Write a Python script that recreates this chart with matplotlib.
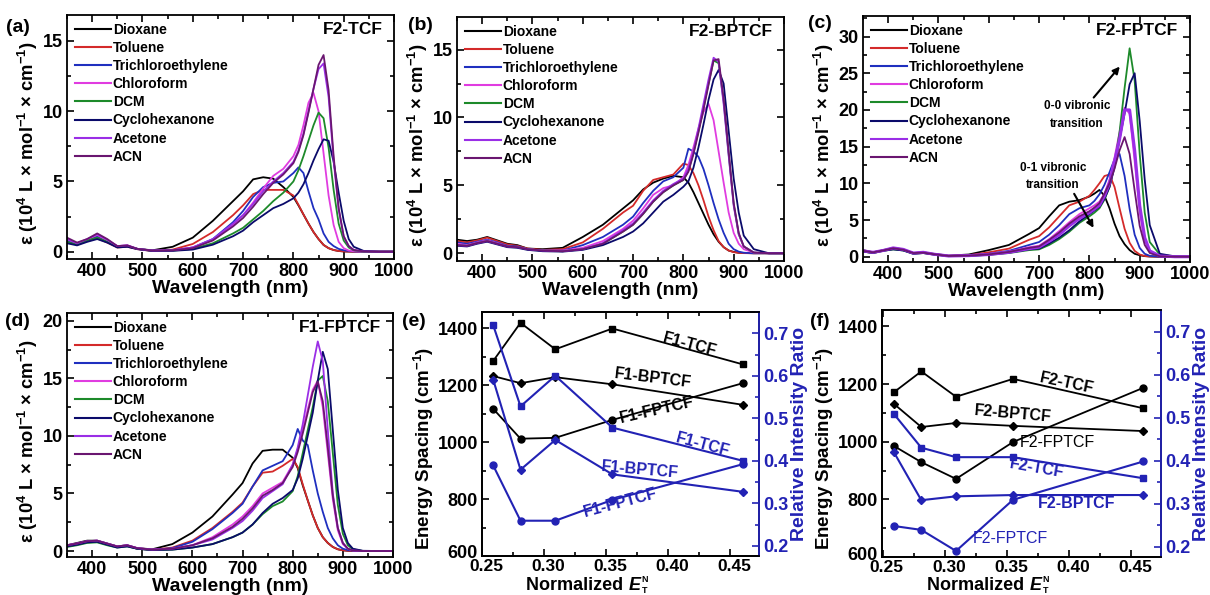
import matplotlib
matplotlib.use("Agg")
import matplotlib.pyplot as plt
from matplotlib.ticker import MultipleLocator
from matplotlib.transforms import ScaledTranslation

plt.rcParams['font.family'] = ['Liberation Sans', 'DejaVu Sans']
plt.rcParams['mathtext.fontset'] = 'custom'
plt.rcParams['mathtext.rm'] = 'Liberation Sans:bold'
plt.rcParams['mathtext.bf'] = 'Liberation Sans:bold'
plt.rcParams['mathtext.it'] = 'Liberation Sans:bold:italic'

# ---------------- data ----------------
SOLVENTS = ['Dioxane', 'Toluene', 'Trichloroethylene', 'Chloroform', 'DCM',
            'Cyclohexanone', 'Acetone', 'ACN']
COLORS = ['#000000', '#d42a2a', '#1f2fbf', '#e03ce0', '#1d8a2a',
          '#0a0a6a', '#9a2ee6', '#6a1670']

WL = [350, 370, 390, 410, 430, 450, 470, 490, 520, 560, 600, 640, 680, 700, 720,
      740, 760, 780, 800, 810, 820, 830, 840, 850, 860, 870, 880, 890, 900, 910,
      920, 940, 970, 1000]

# panel (a) F2-TCF
A_DIOXANE = [0.9, 0.6, 0.85, 1.0, 0.7, 0.35, 0.4, 0.2, 0.1, 0.35, 1.0, 2.2, 3.6, 4.3, 5.15, 5.3, 5.2, 4.6, 3.9, 3.3, 2.65, 2.0, 1.4, 0.9, 0.48, 0.25, 0.12, 0.05, 0.02, 0.01, 0, 0, 0, 0]
A_TOLUENE = [0.7, 0.5, 0.75, 0.95, 0.65, 0.3, 0.35, 0.18, 0.05, 0.15, 0.55, 1.4, 2.6, 3.3, 4.1, 4.4, 4.4, 4.4, 4.0, 3.35, 2.65, 2.0, 1.4, 0.9, 0.48, 0.25, 0.12, 0.05, 0.02, 0.01, 0, 0, 0, 0]
A_TCE = [0.8, 0.55, 0.8, 1.1, 0.75, 0.35, 0.4, 0.2, 0.08, 0.1, 0.3, 0.9, 2.1, 2.9, 3.9, 4.6, 4.9, 5.0, 5.6, 6.0, 5.6, 4.3, 3.1, 2.3, 1.3, 0.7, 0.4, 0.2, 0.1, 0.05, 0.02, 0, 0, 0]
A_CHCL3 = [0.9, 0.6, 0.85, 1.2, 0.8, 0.4, 0.45, 0.2, 0.08, 0.1, 0.3, 0.85, 1.9, 2.6, 3.5, 4.5, 5.4, 5.9, 6.8, 7.6, 9.0, 10.6, 11.3, 10.0, 7.0, 4.0, 1.9, 0.7, 0.25, 0.08, 0.03, 0, 0, 0]
A_DCM = [0.7, 0.5, 0.8, 1.0, 0.7, 0.35, 0.4, 0.2, 0.06, 0.08, 0.2, 0.6, 1.3, 1.7, 2.3, 2.9, 3.6, 4.2, 5.0, 5.8, 6.8, 7.9, 9.0, 9.9, 9.5, 7.4, 4.4, 2.0, 0.8, 0.3, 0.1, 0, 0, 0]
A_CYHEX = [0.6, 0.45, 0.7, 0.9, 0.65, 0.3, 0.35, 0.18, 0.05, 0.06, 0.15, 0.5, 1.1, 1.5, 2.1, 2.6, 3.1, 3.4, 3.8, 4.2, 4.8, 5.6, 6.5, 7.3, 8.0, 7.9, 6.4, 4.2, 2.2, 0.9, 0.35, 0.05, 0, 0]
A_ACETONE = [0.9, 0.6, 0.9, 1.25, 0.85, 0.4, 0.45, 0.2, 0.08, 0.1, 0.3, 0.9, 2.0, 2.6, 3.4, 4.3, 5.0, 5.6, 6.4, 7.2, 8.4, 10.0, 11.6, 13.0, 13.4, 11.0, 6.5, 3.0, 1.1, 0.4, 0.12, 0.02, 0, 0]
A_ACN = [1.0, 0.65, 0.9, 1.3, 0.9, 0.4, 0.45, 0.2, 0.08, 0.1, 0.25, 0.8, 1.8, 2.4, 3.2, 4.1, 4.9, 5.5, 6.3, 7.1, 8.3, 9.9, 11.6, 13.3, 14.0, 11.5, 6.8, 3.1, 1.1, 0.4, 0.12, 0.02, 0, 0]

# panel (b) F2-BPTCF
B_DIOXANE = [1.0, 0.9, 1.0, 1.2, 0.95, 0.7, 0.6, 0.35, 0.3, 0.4, 1.2, 2.1, 3.3, 3.9, 4.7, 5.2, 5.5, 5.7, 5.6, 5.2, 4.5, 3.7, 2.9, 2.1, 1.4, 0.85, 0.45, 0.2, 0.1, 0.04, 0.02, 0, 0, 0]
B_TOLUENE = [0.9, 0.8, 0.95, 1.15, 0.9, 0.65, 0.55, 0.35, 0.25, 0.3, 0.8, 1.8, 3.0, 3.5, 4.6, 5.4, 5.6, 5.8, 6.6, 6.5, 5.9, 5.0, 3.9, 2.7, 1.7, 0.9, 0.45, 0.2, 0.08, 0.03, 0.01, 0, 0, 0]
B_TCE = [0.8, 0.7, 0.85, 1.0, 0.8, 0.55, 0.5, 0.3, 0.2, 0.2, 0.6, 1.2, 2.1, 2.7, 3.7, 4.6, 5.3, 5.6, 6.3, 7.7, 7.5, 7.1, 6.2, 5.0, 3.7, 2.5, 1.5, 0.7, 0.3, 0.12, 0.04, 0, 0, 0]
B_CHCL3 = [0.7, 0.6, 0.8, 0.95, 0.75, 0.5, 0.45, 0.3, 0.2, 0.2, 0.4, 0.9, 1.8, 2.4, 3.3, 4.3, 4.8, 5.0, 5.6, 6.5, 7.8, 9.2, 10.4, 11.0, 9.8, 7.5, 5.2, 3.0, 1.5, 0.7, 0.3, 0.05, 0, 0]
B_DCM = [0.6, 0.55, 0.75, 0.9, 0.7, 0.5, 0.45, 0.3, 0.2, 0.15, 0.3, 0.7, 1.6, 2.1, 2.9, 3.8, 4.5, 5.0, 5.4, 6.1, 7.4, 9.0, 10.7, 12.5, 14.2, 14.0, 11.2, 7.3, 3.6, 1.4, 0.5, 0.05, 0, 0]
B_CYHEX = [0.55, 0.5, 0.7, 0.85, 0.65, 0.45, 0.4, 0.25, 0.15, 0.12, 0.25, 0.6, 1.2, 1.6, 2.2, 3.0, 3.8, 4.3, 4.9, 5.3, 6.3, 7.8, 9.5, 11.3, 12.8, 13.5, 12.5, 9.0, 5.5, 3.0, 1.3, 0.3, 0, 0]
B_ACETONE = [0.6, 0.55, 0.75, 0.9, 0.7, 0.5, 0.45, 0.3, 0.2, 0.15, 0.3, 0.75, 1.7, 2.2, 3.0, 3.9, 4.6, 5.1, 5.5, 6.2, 7.5, 9.2, 11.0, 12.8, 14.4, 14.1, 11.0, 7.2, 3.5, 1.4, 0.5, 0.05, 0, 0]
B_ACN = [0.6, 0.55, 0.75, 0.9, 0.7, 0.5, 0.45, 0.3, 0.2, 0.15, 0.3, 0.7, 1.6, 2.1, 2.9, 3.8, 4.5, 5.0, 5.4, 6.0, 7.3, 8.9, 10.6, 12.4, 14.2, 14.3, 11.4, 7.5, 3.7, 1.5, 0.5, 0.05, 0, 0]

# panel (c) F2-FPTCF
C_DIOXANE = [0.9, 0.6, 0.9, 1.2, 1.0, 0.5, 0.6, 0.4, 0.15, 0.3, 0.9, 1.6, 3.1, 3.9, 5.5, 7.0, 7.5, 7.7, 8.2, 8.6, 9.1, 8.3, 6.6, 4.5, 2.8, 1.7, 0.9, 0.4, 0.2, 0.08, 0.03, 0, 0, 0]
C_TOLUENE = [0.8, 0.6, 0.85, 1.15, 0.95, 0.5, 0.55, 0.35, 0.12, 0.2, 0.6, 1.1, 2.3, 2.8, 4.0, 5.5, 7.0, 7.5, 8.3, 9.1, 10.0, 11.0, 11.2, 9.5, 6.6, 3.8, 1.9, 0.8, 0.3, 0.1, 0.04, 0, 0, 0]
C_TCE = [0.8, 0.6, 0.85, 1.1, 0.9, 0.45, 0.55, 0.35, 0.1, 0.15, 0.4, 0.8, 1.6, 2.0, 3.0, 4.3, 5.8, 6.6, 7.0, 7.6, 8.5, 9.8, 11.5, 13.3, 14.0, 11.0, 6.5, 3.0, 1.2, 0.4, 0.12, 0, 0, 0]
C_CHCL3 = [0.8, 0.6, 0.85, 1.2, 1.0, 0.5, 0.6, 0.35, 0.1, 0.15, 0.35, 0.7, 1.3, 1.5, 2.4, 3.5, 4.7, 5.8, 6.6, 7.0, 7.5, 8.6, 10.5, 13.5, 17.0, 20.3, 19.5, 13.0, 6.0, 2.2, 0.7, 0.1, 0, 0]
C_DCM = [0.7, 0.5, 0.8, 1.0, 0.85, 0.4, 0.5, 0.3, 0.08, 0.1, 0.25, 0.5, 0.9, 1.0, 1.6, 2.4, 3.4, 4.6, 5.5, 6.0, 6.6, 7.8, 9.5, 12.5, 17.0, 23.0, 28.4, 24.0, 14.0, 6.0, 2.0, 0.3, 0, 0]
C_CYHEX = [0.7, 0.5, 0.8, 1.0, 0.85, 0.4, 0.5, 0.3, 0.08, 0.1, 0.28, 0.55, 1.0, 1.1, 1.8, 2.6, 3.6, 4.8, 5.8, 6.3, 6.8, 7.9, 9.5, 12.2, 16.0, 19.5, 23.5, 25.0, 18.5, 10.5, 4.3, 0.4, 0.05, 0]
C_ACETONE = [0.8, 0.6, 0.85, 1.2, 1.0, 0.5, 0.6, 0.35, 0.1, 0.15, 0.3, 0.6, 1.1, 1.3, 2.1, 3.0, 4.2, 5.2, 6.0, 6.5, 7.0, 8.3, 10.0, 13.0, 16.0, 20.0, 20.0, 14.5, 7.0, 2.6, 0.8, 0.1, 0, 0]
C_ACN = [0.8, 0.6, 0.85, 1.15, 0.95, 0.5, 0.55, 0.35, 0.1, 0.15, 0.32, 0.65, 1.2, 1.4, 2.3, 3.3, 4.5, 5.5, 6.2, 6.7, 7.3, 8.6, 10.0, 12.0, 14.5, 16.3, 14.0, 9.0, 4.2, 1.6, 0.5, 0.05, 0, 0]

# panel (d) F1-FPTCF
D_DIOXANE = [0.5, 0.7, 0.9, 0.9, 0.65, 0.4, 0.5, 0.25, 0.15, 0.6, 1.6, 3.0, 4.9, 5.9, 7.6, 8.7, 8.8, 8.8, 8.1, 7.2, 5.7, 4.4, 3.1, 2.0, 1.2, 0.7, 0.35, 0.15, 0.06, 0.02, 0, 0, 0, 0]
D_TOLUENE = [0.4, 0.6, 0.8, 0.85, 0.6, 0.35, 0.45, 0.2, 0.1, 0.3, 0.9, 2.0, 3.4, 4.2, 5.6, 6.8, 6.9, 7.4, 8.0, 7.3, 5.8, 4.4, 3.1, 2.0, 1.2, 0.7, 0.35, 0.15, 0.06, 0.02, 0, 0, 0, 0]
D_TCE = [0.45, 0.6, 0.8, 0.85, 0.6, 0.35, 0.45, 0.2, 0.1, 0.25, 0.8, 1.9, 3.3, 4.1, 5.6, 7.0, 7.4, 7.8, 9.2, 10.6, 9.6, 9.2, 7.0, 5.0, 3.4, 2.0, 1.1, 0.5, 0.2, 0.08, 0.03, 0, 0, 0]
D_CHCL3 = [0.5, 0.65, 0.85, 0.9, 0.65, 0.4, 0.5, 0.25, 0.12, 0.2, 0.5, 1.2, 2.3, 3.0, 3.9, 5.0, 5.5, 6.0, 7.5, 8.8, 10.5, 12.3, 14.0, 14.8, 12.5, 8.5, 4.5, 1.8, 0.6, 0.2, 0.06, 0, 0, 0]
D_DCM = [0.35, 0.5, 0.7, 0.75, 0.5, 0.3, 0.4, 0.2, 0.08, 0.12, 0.3, 0.6, 1.2, 1.6, 2.3, 3.2, 3.9, 4.3, 5.2, 6.5, 8.5, 10.5, 12.5, 14.8, 15.2, 13.0, 8.5, 4.0, 1.5, 0.5, 0.15, 0, 0, 0]
D_CYHEX = [0.4, 0.55, 0.75, 0.8, 0.55, 0.3, 0.4, 0.2, 0.08, 0.12, 0.3, 0.6, 1.2, 1.6, 2.3, 3.3, 4.1, 4.6, 5.3, 6.3, 8.0, 10.0, 12.0, 14.8, 17.3, 15.8, 10.5, 5.3, 2.0, 0.7, 0.2, 0.02, 0, 0]
D_ACETONE = [0.5, 0.65, 0.85, 0.9, 0.65, 0.4, 0.5, 0.25, 0.12, 0.2, 0.5, 1.0, 2.0, 2.6, 3.5, 4.6, 5.2, 5.8, 7.5, 9.0, 11.0, 13.5, 16.0, 18.2, 16.5, 10.5, 5.0, 2.0, 0.7, 0.2, 0.05, 0, 0, 0]
D_ACN = [0.5, 0.65, 0.85, 0.9, 0.65, 0.4, 0.5, 0.25, 0.12, 0.2, 0.5, 1.1, 2.1, 2.8, 3.7, 4.8, 5.3, 5.9, 7.3, 8.6, 10.2, 12.0, 13.8, 14.7, 13.0, 9.0, 4.8, 2.0, 0.7, 0.2, 0.05, 0, 0, 0]

SPECTRA = {
    'a': [A_DIOXANE, A_TOLUENE, A_TCE, A_CHCL3, A_DCM, A_CYHEX, A_ACETONE, A_ACN],
    'b': [B_DIOXANE, B_TOLUENE, B_TCE, B_CHCL3, B_DCM, B_CYHEX, B_ACETONE, B_ACN],
    'c': [C_DIOXANE, C_TOLUENE, C_TCE, C_CHCL3, C_DCM, C_CYHEX, C_ACETONE, C_ACN],
    'd': [D_DIOXANE, D_TOLUENE, D_TCE, D_CHCL3, D_DCM, D_CYHEX, D_ACETONE, D_ACN],
}
SPEC_TITLES = {'a': 'F2-TCF', 'b': 'F2-BPTCF', 'c': 'F2-FPTCF', 'd': 'F1-FPTCF'}
SPEC_YLIM = {'a': (-0.52, 16.85), 'b': (-0.57, 17.4), 'c': (-0.72, 32.8), 'd': (-0.52, 20.67)}
SPEC_YMAJOR = {'a': 5, 'b': 5, 'c': 5, 'd': 5}

# panels (e), (f): normalized E_T^N
ETN = [0.259, 0.281, 0.309, 0.355, 0.460]
E_SPACING = {'F1-TCF': [1285, 1419, 1326, 1399, 1273],
             'F1-BPTCF': [1232, 1207, 1228, 1203, 1131],
             'F1-FPTCF': [1117, 1012, 1015, 1078, 1207]}
E_RATIO = {'F1-TCF': [0.719, 0.528, 0.600, 0.478, 0.400],
           'F1-BPTCF': [0.591, 0.379, 0.449, 0.368, 0.327],
           'F1-FPTCF': [0.389, 0.259, 0.259, 0.308, 0.392]}
F_SPACING = {'F2-TCF': [1172, 1244, 1156, 1218, 1116],
             'F2-BPTCF': [1131, 1051, 1065, 1055, 1037],
             'F2-FPTCF': [985, 929, 871, 999, 1187]}
F_RATIO = {'F2-TCF': [0.508, 0.430, 0.408, 0.408, 0.359],
           'F2-BPTCF': [0.419, 0.308, 0.317, 0.320, 0.320],
           'F2-FPTCF': [0.248, 0.239, 0.190, 0.309, 0.398]}
MARKERS = ['s', 'D', 'o']
E_XTICKS = [0.25, 0.30, 0.35, 0.40, 0.45]
E_YTICKS = [600, 800, 1000, 1200, 1400]
E_Y2TICKS = [0.2, 0.3, 0.4, 0.5, 0.6, 0.7]

BLUE = '#2222b4'
W, H = 1210, 595
fig = plt.figure(figsize=(W / 100, H / 100), dpi=100)
renderer = fig.canvas.get_renderer()


def ax_px(l, r, t, b):
    return fig.add_axes([l / W, (H - b) / H, (r - l) / W, (b - t) / H])


def style(ax, right=True, xpad=3, xsize=13):
    for s in ax.spines.values():
        s.set_linewidth(1.3)
    ax.tick_params(which='both', direction='in', top=True, right=right, width=1.2)
    ax.tick_params(which='major', length=5, labelsize=13, pad=3)
    ax.tick_params(axis='x', which='major', pad=xpad, labelsize=xsize)
    ax.tick_params(which='minor', length=3)
    for lab in ax.get_xticklabels() + ax.get_yticklabels():
        lab.set_fontweight('bold')


SPEC_POS = {'a': (67, 394, 15, 259), 'b': (457, 784, 17, 261),
            'c': (863, 1190, 16, 262), 'd': (67, 393, 313, 557)}
YLAB = 'ε (10$^\\mathbf{4}$ L × mol$^\\mathbf{-1}$ × cm$^\\mathbf{-1}$)'

spec_axes = {}
for key in ['a', 'b', 'c', 'd']:
    ax = ax_px(*SPEC_POS[key])
    spec_axes[key] = ax
    for i, (name, col) in enumerate(zip(SOLVENTS, COLORS)):
        lw = 1.3
        if key == 'c' and name == 'Acetone':
            lw = 2.2
        ax.plot(WL, SPECTRA[key][i], color=col, lw=lw, label=name)
    ax.set_xlim(350, 1000)
    ax.set_ylim(*SPEC_YLIM[key])
    ax.xaxis.set_major_locator(MultipleLocator(100))
    ax.xaxis.set_minor_locator(MultipleLocator(50))
    ax.yaxis.set_major_locator(MultipleLocator(SPEC_YMAJOR[key]))
    ax.yaxis.set_minor_locator(MultipleLocator(SPEC_YMAJOR[key] / 2))
    ax.set_xticks([400, 500, 600, 700, 800, 900, 1000])
    style(ax)
    ax.set_xlabel('Wavelength (nm)', fontsize=14, fontweight='bold', labelpad=0)
    ax.set_ylabel(YLAB, fontsize=13.2, fontweight='bold', labelpad=2)
    ax.yaxis.label.set_y(0.475)
    leg = ax.legend(loc='upper left', frameon=False,
                    prop={'weight': 'bold', 'size': 10},
                    handlelength=2.6, handletextpad=0.15, labelspacing=0.3,
                    borderaxespad=0.3, borderpad=0.25)
    for ln in leg.get_lines():
        ln.set_linewidth(1.5)
    ax.text(0.965, 0.94, SPEC_TITLES[key], transform=ax.transAxes, ha='right',
            va='center', fontsize=12.5, fontweight='bold')

# annotations in (c)
axc = spec_axes['c']
axc.annotate('', xy=(864, 26.2), xytext=(805, 21.4),
             arrowprops=dict(arrowstyle='-|>', color='black', lw=1.5, mutation_scale=10))
axc.text(775, 19.3, '0-0 vibronic\ntransition', ha='center', va='center',
         fontsize=8.5, fontweight='bold', linespacing=1.6)
axc.annotate('', xy=(811, 3.6), xytext=(767, 8.9),
             arrowprops=dict(arrowstyle='-|>', color='black', lw=1.5, mutation_scale=10))
axc.text(728, 10.9, '0-1 vibronic\ntransition', ha='center', va='center',
         fontsize=8.5, fontweight='bold', linespacing=1.6)


def energy_panel(pos, xlim, spacing, ratio, labels_black, labels_blue):
    ax = ax_px(*pos)
    ax2 = ax.twinx()
    for (name, vals), m in zip(spacing.items(), MARKERS):
        ax.plot(ETN, vals, color='black', lw=1.3, marker=m,
                ms=5 if m != 'D' else 4.5)
    for (name, vals), m in zip(ratio.items(), MARKERS):
        ax2.plot(ETN, vals, color=BLUE, lw=1.5, marker=m,
                 ms=5 if m != 'D' else 4.5)
    ax.set_xlim(*xlim)
    ax.set_ylim(600, 1457)
    ax2.set_ylim(0.176, 0.75)
    ax.set_xticks(E_XTICKS)
    ax.set_xticklabels(['%.2f' % v for v in E_XTICKS])
    ax.xaxis.set_minor_locator(MultipleLocator(0.025))
    ax.set_yticks(E_YTICKS)
    ax.yaxis.set_minor_locator(MultipleLocator(100))
    ax2.set_yticks(E_Y2TICKS)
    ax2.set_yticklabels(['%.1f' % v for v in E_Y2TICKS])
    ax2.yaxis.set_minor_locator(MultipleLocator(0.05))
    style(ax, right=False, xpad=2, xsize=12.5)
    # nudge tick labels like the original (x labels a bit right, bottom y label up)
    shift_x = ScaledTranslation(4 / 100, 0, fig.dpi_scale_trans)
    for tk in ax.xaxis.get_major_ticks():
        tk.label1.set_transform(tk.label1.get_transform() + shift_x)
    ytks = ax.yaxis.get_major_ticks()
    ytks[0].label1.set_transform(ytks[0].label1.get_transform() +
                                 ScaledTranslation(0, 4 / 100, fig.dpi_scale_trans))
    for s in ax2.spines.values():
        s.set_linewidth(1.3)
    ax2.spines['right'].set_color(BLUE)
    ax2.tick_params(which='both', direction='in', colors=BLUE, width=1.2)
    ax2.tick_params(which='major', length=5, labelsize=13, pad=3)
    ax2.tick_params(which='minor', length=3)
    for lab in ax2.get_yticklabels():
        lab.set_fontweight('bold')
    # x label "Normalized E_T^N" built from pieces
    l, r = pos[0], pos[1]
    cx = (l + r) / 2 + 8
    base_y = 1 - 590 / H
    fig.text(cx / W, base_y, 'Normalized ', ha='right', va='baseline',
             fontsize=13, fontweight='bold')
    t2 = fig.text(cx / W, base_y, 'E', ha='left', va='baseline',
                  fontsize=13, fontweight='bold', style='italic')
    bb = t2.get_window_extent(renderer=renderer)
    xe = (bb.x1 + 1) / W
    fig.text(xe, base_y + 8 / H, 'N', ha='left', va='baseline', fontsize=6.5,
             fontweight='bold')
    fig.text(xe, base_y - 3 / H, 'T', ha='left', va='baseline', fontsize=6.5,
             fontweight='bold')
    ax.set_ylabel('Energy Spacing (cm$^\\mathbf{-1}$)', fontsize=13.5,
                  fontweight='bold', labelpad=1)
    ax.yaxis.label.set_y(0.44)
    ax2.set_ylabel('Relative Intensity Ratio', fontsize=14, fontweight='bold',
                   color=BLUE, labelpad=2)
    for txt, x, y, rot, wt in labels_black:
        ax.text(x, y, txt, ha='center', va='center', rotation=rot,
                fontsize=11.5, fontweight=wt, color='black')
    for txt, x, y, rot, wt in labels_blue:
        ax2.text(x, y, txt, ha='center', va='center', rotation=rot,
                 fontsize=11.5, fontweight=wt, color=BLUE)
    return ax, ax2


energy_panel((482, 759, 312, 556), (0.2504, 0.473), E_SPACING, E_RATIO,
             [('F1-TCF', 0.4176, 1341, -15, 'bold'),
              ('F1-BPTCF', 0.388, 1225, -7, 'bold'),
              ('F1-FPTCF', 0.391, 1113, 13, 'bold')],
             [('F1-TCF', 0.428, 0.4375, -15, 'bold'),
              ('F1-BPTCF', 0.3774, 0.3785, -5, 'bold'),
              ('F1-FPTCF', 0.3613, 0.3007, 15, 'bold')])
energy_panel((882, 1161, 310, 557), (0.2493, 0.4743), F_SPACING, F_RATIO,
             [('F2-TCF', 0.3985, 1201, -12, 'bold'),
              ('F2-BPTCF', 0.355, 1096, -5, 'bold'),
              ('F2-FPTCF', 0.3904, 997, 0, 'normal')],
             [('F2-TCF', 0.3743, 0.383, -10, 'bold'),
              ('F2-BPTCF', 0.4066, 0.300, 0, 'bold'),
              ('F2-FPTCF', 0.3525, 0.218, 0, 'normal')])

# panel letters
for lab, x, y in [('(a)', 18, 27), ('(b)', 420, 26), ('(c)', 820, 24),
                  ('(d)', 17, 322), ('(e)', 414, 322), ('(f)', 820, 322)]:
    fig.text(x / W, 1 - y / H, lab, ha='center', va='center', fontsize=14,
             fontweight='bold')

fig.savefig('out.png', dpi=100)
